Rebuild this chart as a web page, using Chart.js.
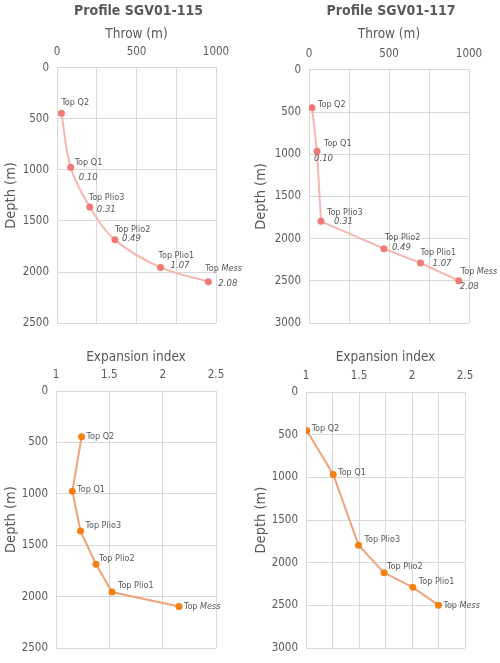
<!DOCTYPE html>
<html>
<head>
<meta charset="utf-8">
<script src="https://cdn.jsdelivr.net/npm/chart.js@4"></script>
<style>
  html, body { margin: 0; padding: 0; background: #fff; }
  #wrap { position: relative; width: 500px; height: 663px; }
  .cell { position: absolute; }
</style>
</head>
<body>
<div id="wrap">
  <div class="cell" style="left:0;top:0"><canvas id="c115t" width="250" height="338"></canvas></div>
  <div class="cell" style="left:250px;top:0"><canvas id="c117t" width="250" height="338"></canvas></div>
  <div class="cell" style="left:0;top:338px"><canvas id="c115b" width="250" height="325"></canvas></div>
  <div class="cell" style="left:250px;top:338px"><canvas id="c117b" width="250" height="325"></canvas></div>
</div>
<script>
// horizons and values
const horizons = ['Q2', 'Q1', 'Plio3', 'Plio2', 'Plio1', 'Mess'];
const rates = ['', '0.10', '0.31', '0.49', '1.07', '2.08'];

const depth115 = [445, 975, 1362, 1685, 1955, 2095];
const throw115 = [28, 86, 206, 364, 651, 952];
const expansion115 = [1.24, 1.153, 1.23, 1.375, 1.525, 2.153];

const depth117 = [450, 965, 1795, 2118, 2288, 2497];
const throw117 = [19, 50, 75, 468, 697, 936];
const expansion117 = [1.006, 1.257, 1.496, 1.737, 2.008, 2.25];

const throwTicks = [0, 500, 1000];
const expansionTicks = [1, 1.5, 2, 2.5];
const depthTicks115 = [0, 500, 1000, 1500, 2000, 2500];
const depthTicks117 = [0, 500, 1000, 1500, 2000, 2500, 3000];

// label placement (pixel offsets from each point: name dx,dy / rate dx,dy)
const nameOff115t = [[0, -11], [4, -5], [-1, -9], [0, -10], [-2, -12], [-3, -13]];
const rateOff115t = [null, [8, 10], [7, 3], [7, -1], [10, -2], [10, 2]];
const nameOff117t = [[6, -3], [7, -8], [6, -9], [1, -11], [0, -10], [2, -9]];
const rateOff117t = [null, [-3, 7], [13, 0], [8, -1], [12, 1], [1, 6]];
const nameOff115b = [[5, 0], [5, -2], [5, -5], [3, -6], [6, -6], [5, 0]];
const nameOff117b = [[5, -2], [5, -2], [6, -6], [3, -6], [6, -6], [5, 0]];

const FONT = "'DejaVu Sans Condensed', 'DejaVu Sans', sans-serif";
const GREY = '#595959';
const GRID = '#d9d9d9';

Chart.defaults.font.family = FONT;
Chart.defaults.color = GREY;

const pointLabels = {
  id: 'pointLabels',
  afterLayout(chart) {
    // centre the chart title over the plot area, like the original
    const t = chart.titleBlock;
    if (t) {
      const c = (chart.chartArea.left + chart.chartArea.right) / 2 + 2;
      t.left = c - 125;
      t.right = c + 125;
    }
  },
  afterDatasetsDraw(chart, args, opts) {
    const ctx = chart.ctx;
    const pts = chart.getDatasetMeta(0).data;
    ctx.save();
    ctx.fillStyle = GREY;
    ctx.textBaseline = 'middle';
    ctx.textAlign = 'left';
    pts.forEach((p, i) => {
      const h = horizons[i];
      const no = opts.nameOff[i];
      let x = p.x + no[0], y = p.y + no[1];
      ctx.font = '9px ' + FONT;
      ctx.fillText('Top ', x, y);
      const w = ctx.measureText('Top ').width;
      ctx.font = (h === 'Mess' ? 'italic ' : '') + '9px ' + FONT;
      ctx.fillText(h, x + w, y);
      if (opts.rateOff && opts.rateOff[i] && rates[i]) {
        ctx.font = 'italic 9.5px ' + FONT;
        ctx.fillText(rates[i], p.x + opts.rateOff[i][0], p.y + opts.rateOff[i][1]);
      }
    });
    ctx.restore();
  }
};

function makeChart(id, o) {
  const pts = o.xs.map((v, i) => ({ x: v, y: o.depth[i] }));
  return new Chart(document.getElementById(id), {
    type: 'scatter',
    data: {
      datasets: [{
        data: pts,
        showLine: true,
        borderColor: o.line,
        borderWidth: 2,
        tension: o.tension,
        pointRadius: 3.5,
        pointBackgroundColor: o.dot,
        pointBorderColor: o.dot,
        pointBorderWidth: 0
      }]
    },
    options: {
      responsive: false,
      animation: false,
      layout: { padding: o.pad },
      scales: {
        x: {
          position: 'top',
          min: o.xTicks[0],
          max: o.xTicks[o.xTicks.length - 1],
          afterFit: s => { s.height = o.xHeight; },
          ticks: {
            stepSize: o.xStep,
            padding: 9,
            font: { size: 11.5 },
            color: GREY,
            callback: v => o.xTicks.some(t => Math.abs(t - v) < 1e-6) ? String(v) : ''
          },
          grid: { color: GRID, drawTicks: false },
          border: { color: GRID },
          title: {
            display: true,
            text: o.xTitle,
            font: { size: 13.5 },
            color: GREY,
            padding: { top: o.xTitlePad, bottom: 0 }
          }
        },
        y: {
          reverse: true,
          min: 0,
          max: o.yTicks[o.yTicks.length - 1],
          afterFit: s => { s.width = o.yWidth; },
          ticks: {
            stepSize: 500,
            padding: 8,
            font: { size: 11.5 },
            color: GREY,
            callback: v => String(v)
          },
          grid: { color: GRID, drawTicks: false },
          border: { color: GRID },
          title: {
            display: true,
            text: 'Depth (m)',
            font: { size: 14.5 },
            color: GREY,
            padding: { top: 3, bottom: 0 }
          }
        }
      },
      plugins: {
        legend: { display: false },
        tooltip: { enabled: false },
        title: {
          display: !!o.title,
          text: o.title,
          font: { size: 14, weight: 'bold' },
          color: GREY,
          padding: { top: 3, bottom: 3 }
        },
        pointLabels: { nameOff: o.nameOff, rateOff: o.rateOff }
      }
    },
    plugins: [pointLabels]
  });
}

const pinkLine = '#f6b7b2', pinkDot = '#ef7a76';
const orangeLine = '#f0a27a', orangeDot = '#f38012';

makeChart('c115t', {
  title: 'Profile SGV01-115', xTitle: 'Throw (m)', xs: throw115, depth: depth115,
  xTicks: throwTicks, xStep: 250, yTicks: depthTicks115,
  line: pinkLine, dot: pinkDot, tension: 0.35,
  pad: { left: 0, right: 34, top: 0, bottom: 8 }, xHeight: 45, yWidth: 57, xTitlePad: 4,
  nameOff: nameOff115t, rateOff: rateOff115t
});
makeChart('c117t', {
  title: 'Profile SGV01-117', xTitle: 'Throw (m)', xs: throw117, depth: depth117,
  xTicks: throwTicks, xStep: 250, yTicks: depthTicks117,
  line: pinkLine, dot: pinkDot, tension: 0,
  pad: { left: 0, right: 31, top: 0, bottom: 8 }, xHeight: 47, yWidth: 59, xTitlePad: 4,
  nameOff: nameOff117t, rateOff: rateOff117t
});
makeChart('c115b', {
  title: '', xTitle: 'Expansion index', xs: expansion115, depth: depth115,
  xTicks: expansionTicks, xStep: 0.5, yTicks: depthTicks115,
  line: orangeLine, dot: orangeDot, tension: 0,
  pad: { left: 0, right: 34, top: 0, bottom: 9 }, xHeight: 53, yWidth: 56, xTitlePad: 11,
  nameOff: nameOff115b, rateOff: null
});
makeChart('c117b', {
  title: '', xTitle: 'Expansion index', xs: expansion117, depth: depth117,
  xTicks: expansionTicks, xStep: 0.25, yTicks: depthTicks117,
  line: orangeLine, dot: orangeDot, tension: 0,
  pad: { left: 0, right: 35, top: 0, bottom: 9 }, xHeight: 54, yWidth: 56, xTitlePad: 11,
  nameOff: nameOff117b, rateOff: null
});
</script>
</body>
</html>
